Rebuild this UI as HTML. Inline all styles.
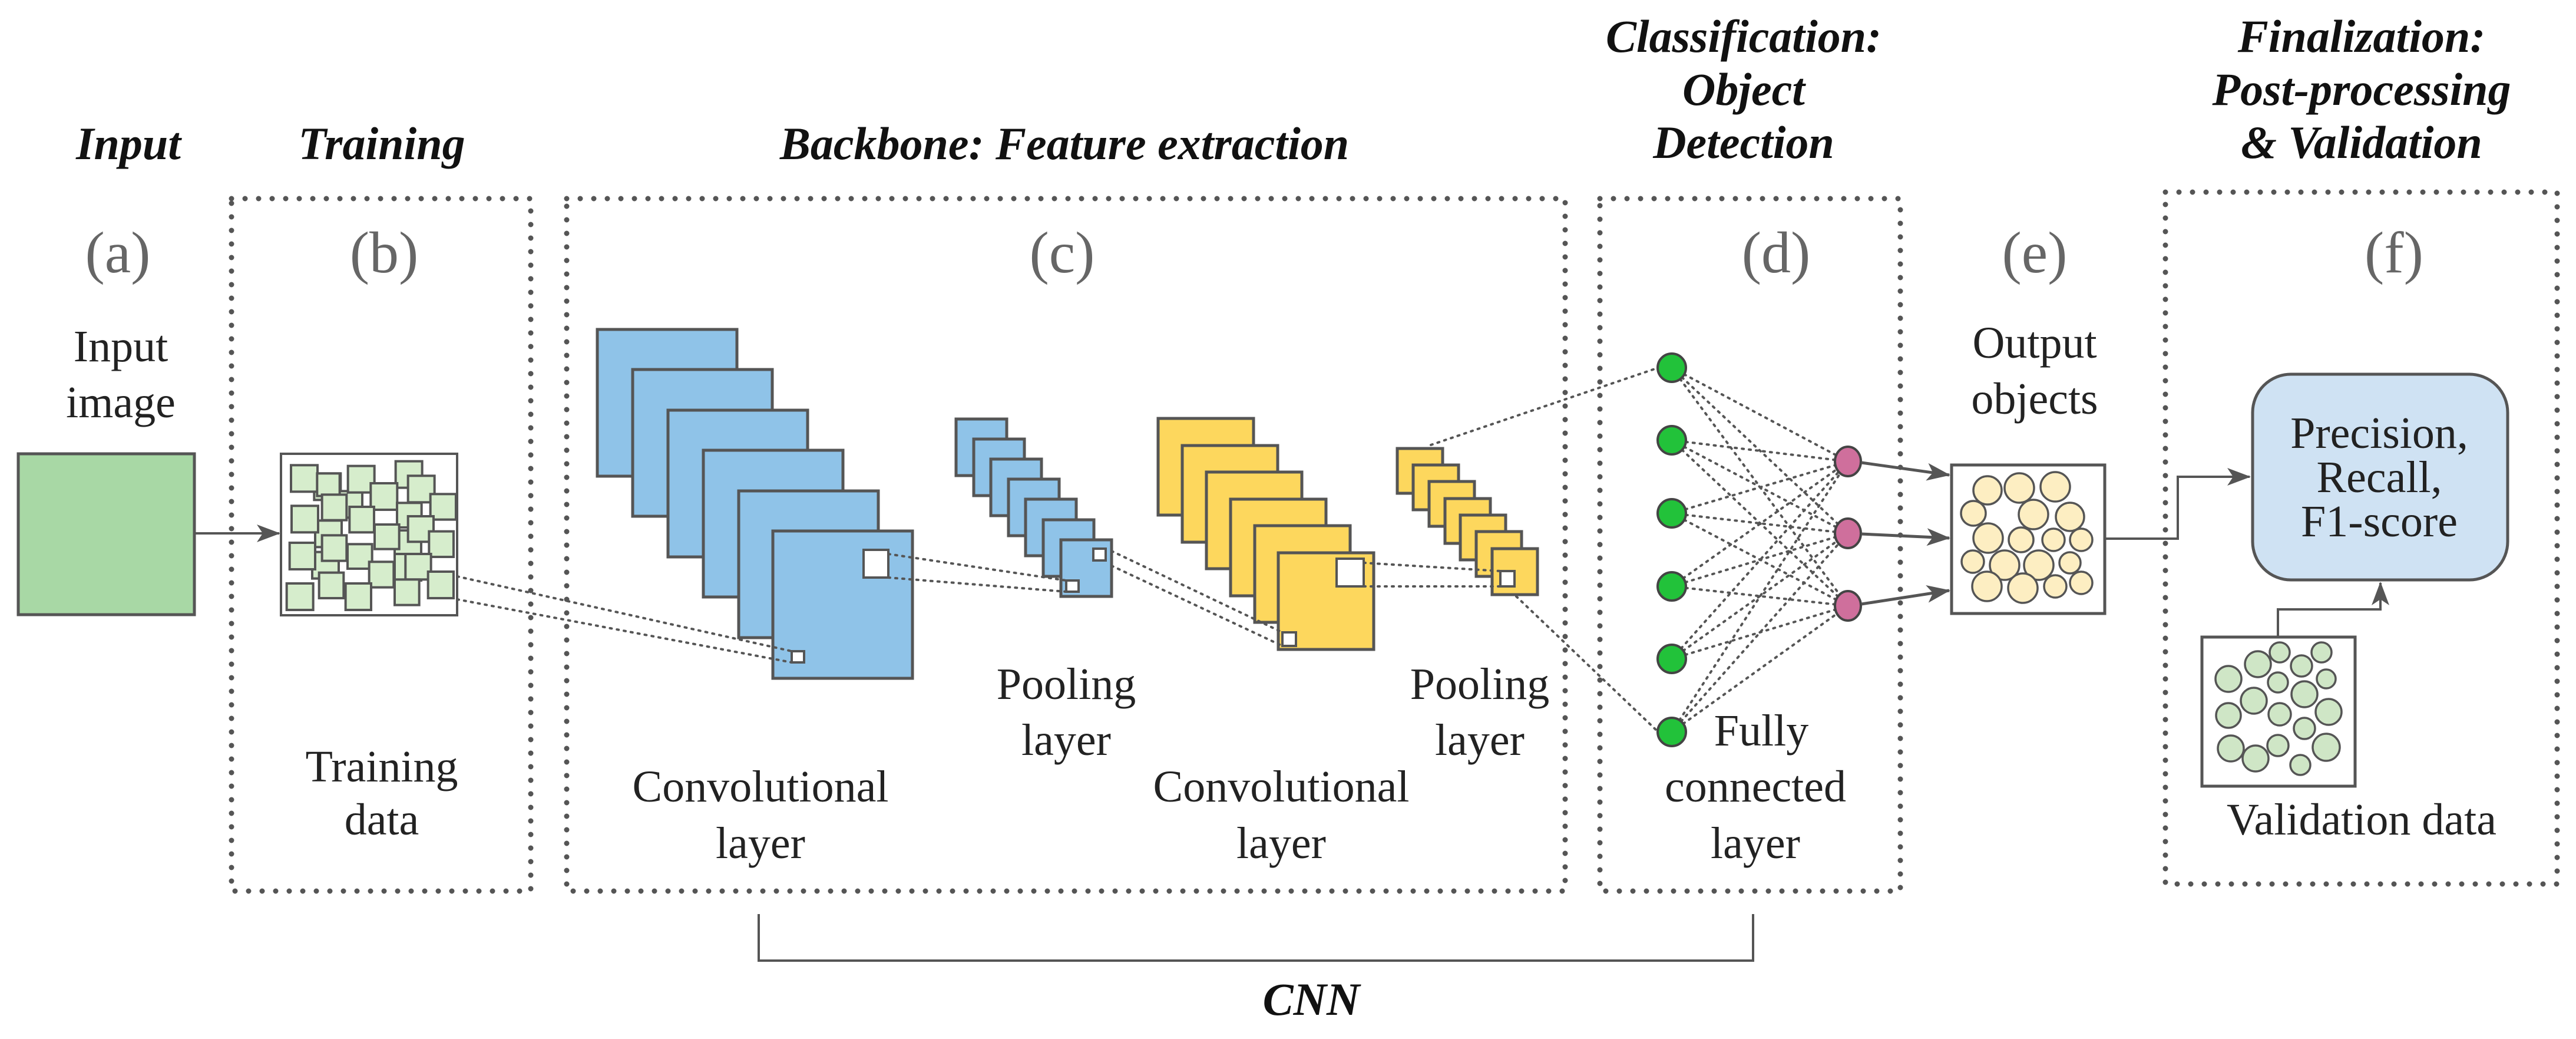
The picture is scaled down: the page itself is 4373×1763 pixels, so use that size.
<!DOCTYPE html>
<html><head><meta charset="utf-8"><style>
html,body{margin:0;padding:0;background:#fff;}
svg{display:block;}
text{font-family:"Liberation Serif",serif;}
.t{font-weight:bold;font-style:italic;font-size:78px;fill:#111;text-anchor:middle;}
.l{font-size:76px;fill:#222;text-anchor:middle;}
.p{font-size:100px;fill:#666;text-anchor:middle;}
.box{fill:none;stroke:#555;stroke-width:9;stroke-dasharray:0 23;stroke-linecap:round;}
.dl{stroke:#555;stroke-width:4;stroke-dasharray:3 9;fill:none;stroke-linecap:round;}
.b{fill:#8fc3e8;stroke:#555;stroke-width:5;}
.y{fill:#fdd75d;stroke:#555;stroke-width:5;}
.w{fill:#fff;stroke:#555;stroke-width:4;}
</style></head><body>
<svg width="4373" height="1763" viewBox="0 0 4373 1763" xmlns="http://www.w3.org/2000/svg">
<defs>
<marker id="ar2" markerWidth="40" markerHeight="30" refX="38" refY="15" orient="auto" markerUnits="userSpaceOnUse" viewBox="0 0 40 30"><path d="M0,0 L40,15 L0,30 L10,15z" fill="#555"/></marker></defs>

<!-- titles -->
<text class="t" x="218" y="270">Input</text>
<text class="t" x="648" y="270">Training</text>
<text class="t" x="1807" y="270">Backbone: Feature extraction</text>
<text class="t" x="2960" y="88">Classification:</text>
<text class="t" x="2960" y="178">Object</text>
<text class="t" x="2960" y="268">Detection</text>
<text class="t" x="4009" y="88">Finalization:</text>
<text class="t" x="4009" y="178">Post-processing</text>
<text class="t" x="4009" y="268">&amp; Validation</text>

<text class="p" x="200" y="462">(a)</text>
<text class="p" x="652" y="462">(b)</text>
<text class="p" x="1803" y="462">(c)</text>
<text class="p" x="3015" y="462">(d)</text>
<text class="p" x="3454" y="462">(e)</text>
<text class="p" x="4064" y="462">(f)</text>

<!-- dotted boxes -->
<rect class="box" x="393" y="337" width="508" height="1175"/>
<rect class="box" x="962" y="337" width="1695" height="1175"/>
<rect class="box" x="2716" y="337" width="510" height="1175"/>
<rect class="box" x="3676" y="326" width="665" height="1174"/>

<!-- input -->
<text class="l" x="205" y="613">Input</text>
<text class="l" x="205" y="708">image</text>
<rect x="31" y="770" width="299" height="273" fill="#a8d8a5" stroke="#555" stroke-width="5"/>
<line x1="330" y1="905" x2="474" y2="905" stroke="#555" stroke-width="4" marker-end="url(#ar2)"/>

<!-- training box -->
<rect x="477" y="770" width="299" height="274" fill="#fff" stroke="#555" stroke-width="4"/>
<g transform="translate(470,760) scale(0.3333)" fill="#d6edcc" stroke="#555" stroke-width="12">
<rect x="190" y="130" width="135" height="135"/><rect x="300" y="220" width="135" height="135"/>
<rect x="195" y="370" width="135" height="135"/><rect x="180" y="530" width="135" height="135"/>
<rect x="600" y="420" width="135" height="135"/><rect x="600" y="540" width="135" height="135"/>
<rect x="72" y="88" width="135" height="135"/><rect x="205" y="130" width="115" height="115"/>
<rect x="362" y="92" width="135" height="135"/><rect x="605" y="68" width="135" height="135"/>
<rect x="668" y="142" width="135" height="135"/><rect x="230" y="238" width="125" height="130"/>
<rect x="478" y="180" width="135" height="135"/><rect x="370" y="300" width="125" height="130"/>
<rect x="612" y="280" width="125" height="125"/><rect x="782" y="235" width="130" height="130"/>
<rect x="75" y="295" width="135" height="135"/><rect x="668" y="348" width="130" height="130"/>
<rect x="498" y="390" width="125" height="125"/><rect x="230" y="445" width="125" height="130"/>
<rect x="360" y="490" width="125" height="125"/><rect x="775" y="425" width="125" height="130"/>
<rect x="65" y="483" width="130" height="135"/><rect x="655" y="540" width="130" height="130"/>
<rect x="470" y="580" width="125" height="130"/><rect x="600" y="670" width="125" height="130"/>
<rect x="215" y="635" width="125" height="130"/><rect x="770" y="630" width="130" height="135"/>
<rect x="350" y="690" width="130" height="135"/><rect x="50" y="690" width="135" height="135"/>
</g>
<text class="l" x="648" y="1326">Training</text>
<text class="l" x="648" y="1416">data</text>

<!-- conv layer 1 -->
<g>
<rect class="b" x="1014" y="559" width="237" height="249"/>
<rect class="b" x="1074" y="627" width="237" height="249"/>
<rect class="b" x="1134" y="696" width="237" height="249"/>
<rect class="b" x="1194" y="764" width="237" height="249"/>
<rect class="b" x="1254" y="833" width="237" height="249"/>
<rect class="b" x="1312" y="901" width="237" height="250"/>
<rect class="w" x="1466" y="933" width="42" height="47"/>
<rect class="w" x="1344" y="1105" width="21" height="19"/>
</g>
<line class="dl" x1="776" y1="978" x2="1344" y2="1105"/>
<line class="dl" x1="776" y1="1017" x2="1344" y2="1124"/>
<text class="l" x="1291" y="1360">Convolutional</text>
<text class="l" x="1291" y="1456">layer</text>

<!-- pool 1 -->
<g>
<rect class="b" x="1623" y="711" width="86" height="96"/>
<rect class="b" x="1653" y="745" width="86" height="96"/>
<rect class="b" x="1682" y="779" width="86" height="96"/>
<rect class="b" x="1712" y="813" width="86" height="96"/>
<rect class="b" x="1741" y="847" width="86" height="96"/>
<rect class="b" x="1771" y="882" width="86" height="96"/>
<rect class="b" x="1801" y="916" width="86" height="96"/>
<rect class="w" x="1856" y="931" width="21" height="20"/>
<rect class="w" x="1810" y="985" width="21" height="19"/>
</g>
<line class="dl" x1="1508" y1="940" x2="1810" y2="985"/>
<line class="dl" x1="1508" y1="980" x2="1810" y2="1004"/>
<text class="l" x="1810" y="1186">Pooling</text>
<text class="l" x="1810" y="1281">layer</text>

<!-- conv 2 yellow -->
<g>
<rect class="y" x="1966" y="710" width="162" height="164"/>
<rect class="y" x="2007" y="756" width="162" height="164"/>
<rect class="y" x="2048" y="801" width="162" height="164"/>
<rect class="y" x="2089" y="847" width="162" height="164"/>
<rect class="y" x="2130" y="892" width="162" height="164"/>
<rect class="y" x="2170" y="938" width="162" height="164"/>
<rect class="w" x="2269" y="948" width="46" height="47"/>
<rect class="w" x="2177" y="1073" width="23" height="23"/>
</g>
<line class="dl" x1="1887" y1="935" x2="2177" y2="1073"/>
<line class="dl" x1="1887" y1="960" x2="2177" y2="1096"/>
<text class="l" x="2175" y="1360">Convolutional</text>
<text class="l" x="2175" y="1456">layer</text>

<!-- pool 2 -->
<g>
<rect class="y" x="2372" y="761" width="77" height="76"/>
<rect class="y" x="2399" y="789" width="77" height="76"/>
<rect class="y" x="2426" y="817" width="77" height="76"/>
<rect class="y" x="2453" y="846" width="77" height="76"/>
<rect class="y" x="2479" y="874" width="77" height="76"/>
<rect class="y" x="2506" y="902" width="77" height="76"/>
<rect class="y" x="2533" y="931" width="77" height="78"/>
<rect class="w" x="2547" y="969" width="24" height="26"/>
</g>
<line class="dl" x1="2315" y1="955" x2="2547" y2="969"/>
<line class="dl" x1="2315" y1="995" x2="2547" y2="995"/>
<text class="l" x="2512" y="1186">Pooling</text>
<text class="l" x="2512" y="1281">layer</text>
<line class="dl" x1="2429" y1="755" x2="2815" y2="624"/>
<line class="dl" x1="2574" y1="1012" x2="2815" y2="1242"/>

<!-- fully connected -->
<g class="dl">
<path d="M2838 624L3137 783M2838 624L3137 905M2838 624L3137 1028
M2838 747L3137 783M2838 747L3137 905M2838 747L3137 1028
M2838 871L3137 783M2838 871L3137 905M2838 871L3137 1028
M2838 995L3137 783M2838 995L3137 905M2838 995L3137 1028
M2838 1118L3137 783M2838 1118L3137 905M2838 1118L3137 1028
M2838 1242L3137 783M2838 1242L3137 905M2838 1242L3137 1028"/>
</g>
<g fill="#22c23a" stroke="#444" stroke-width="4">
<circle cx="2838" cy="624" r="24"/><circle cx="2838" cy="747" r="24"/><circle cx="2838" cy="871" r="24"/>
<circle cx="2838" cy="995" r="24"/><circle cx="2838" cy="1118" r="24"/><circle cx="2838" cy="1242" r="24"/>
</g>
<g fill="#cf6f9c" stroke="#444" stroke-width="4">
<ellipse cx="3137" cy="783" rx="22" ry="25"/><ellipse cx="3137" cy="905" rx="22" ry="25"/><ellipse cx="3137" cy="1028" rx="22" ry="25"/>
</g>
<g stroke="#555" stroke-width="5" marker-end="url(#ar2)">
<line x1="3160" y1="785" x2="3309" y2="806"/>
<line x1="3160" y1="906" x2="3309" y2="913"/>
<line x1="3160" y1="1025" x2="3309" y2="1002"/>
</g>
<text class="l" x="2990" y="1265">Fully</text>
<text class="l" x="2980" y="1360">connected</text>
<text class="l" x="2980" y="1456">layer</text>

<!-- output -->
<text class="l" x="3454" y="607">Output</text>
<text class="l" x="3454" y="702">objects</text>
<rect x="3313" y="789" width="260" height="252" fill="#fff" stroke="#555" stroke-width="5"/>
<g fill="#fdeec2" stroke="#555" stroke-width="3.5">
<circle cx="3374" cy="832" r="24"/><circle cx="3428" cy="828" r="25"/><circle cx="3489" cy="826" r="25"/>
<circle cx="3350" cy="871" r="21"/><circle cx="3452" cy="873" r="25"/><circle cx="3514" cy="877" r="24"/>
<circle cx="3375" cy="913" r="25"/><circle cx="3431" cy="916" r="21"/><circle cx="3486" cy="916" r="19"/>
<circle cx="3533" cy="916" r="19"/><circle cx="3349" cy="953" r="19"/><circle cx="3403" cy="959" r="25"/>
<circle cx="3461" cy="959" r="25"/><circle cx="3514" cy="955" r="18"/><circle cx="3373" cy="995" r="25"/>
<circle cx="3434" cy="998" r="25"/><circle cx="3489" cy="995" r="19"/><circle cx="3533" cy="989" r="19"/>
</g>
<polyline points="3573,914 3697,914 3697,809 3819,809" fill="none" stroke="#555" stroke-width="4" marker-end="url(#ar2)"/>

<!-- precision -->
<rect x="3824" y="635" width="433" height="349" rx="65" fill="#cfe2f3" stroke="#555" stroke-width="5"/>
<text class="l" x="4039" y="760">Precision,</text>
<text class="l" x="4039" y="835">Recall,</text>
<text class="l" x="4039" y="910">F1-score</text>

<!-- validation -->
<rect x="3738" y="1081" width="260" height="253" fill="#fff" stroke="#555" stroke-width="5"/>
<g fill="#cfe6c6" stroke="#555" stroke-width="3.5">
<circle cx="3783" cy="1152" r="22"/><circle cx="3833" cy="1127" r="22"/><circle cx="3870" cy="1107" r="17"/>
<circle cx="3907" cy="1130" r="18"/><circle cx="3941" cy="1107" r="17"/><circle cx="3949" cy="1152" r="16"/>
<circle cx="3867" cy="1158" r="17"/><circle cx="3826" cy="1189" r="22"/><circle cx="3912" cy="1178" r="22"/>
<circle cx="3783" cy="1214" r="21"/><circle cx="3870" cy="1212" r="19"/><circle cx="3953" cy="1208" r="22"/>
<circle cx="3912" cy="1236" r="18"/><circle cx="3787" cy="1270" r="22"/><circle cx="3829" cy="1287" r="22"/>
<circle cx="3867" cy="1265" r="18"/><circle cx="3949" cy="1268" r="23"/><circle cx="3905" cy="1298" r="17"/>
</g>
<polyline points="3867,1081 3867,1034 4041,1034 4041,989" fill="none" stroke="#555" stroke-width="4" marker-end="url(#ar2)"/>
<text class="l" x="4009" y="1416">Validation data</text>

<!-- CNN bracket -->
<polyline points="1288,1551 1288,1630 2976,1630 2976,1551" fill="none" stroke="#555" stroke-width="4"/>
<text class="t" x="2226" y="1722">CNN</text>
</svg>
</body></html>
